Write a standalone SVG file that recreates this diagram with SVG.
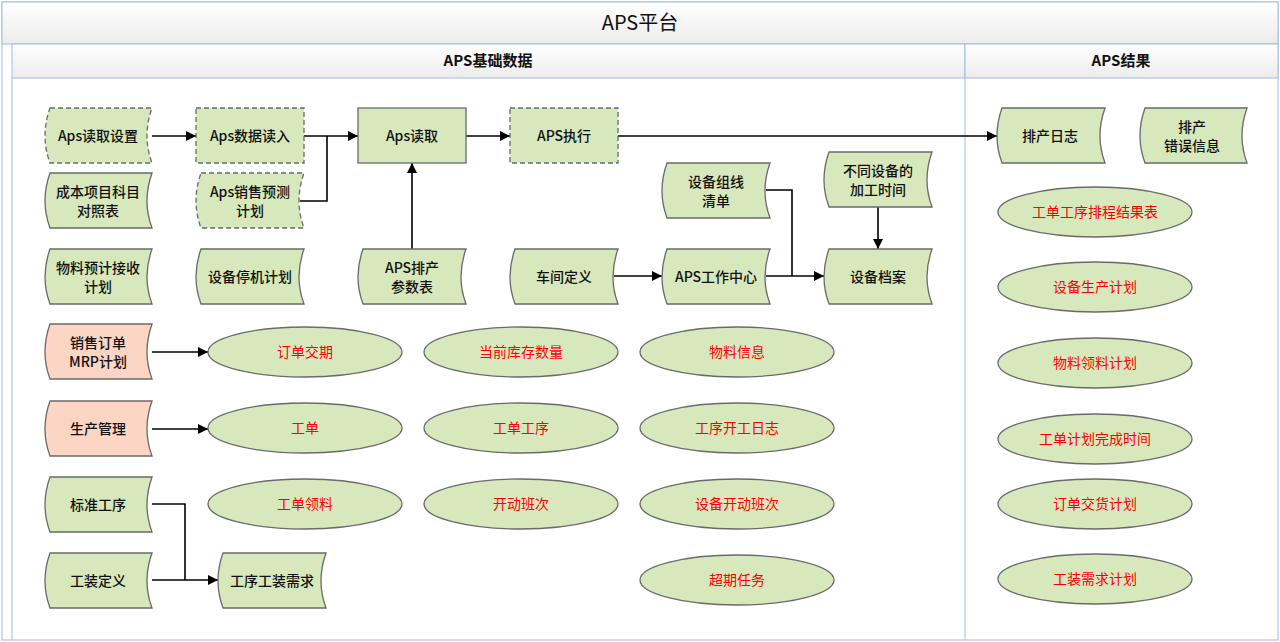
<svg xmlns="http://www.w3.org/2000/svg" width="1280" height="642" viewBox="0 0 1280 642">
<defs>
<linearGradient id="hg" x1="0" y1="0" x2="0" y2="1"><stop offset="0" stop-color="#ffffff"/><stop offset="1" stop-color="#ececec"/></linearGradient>
<marker id="ar" viewBox="0 0 10 10" refX="10" refY="5" markerWidth="10" markerHeight="10" markerUnits="userSpaceOnUse" orient="auto"><path d="M0,0 L10,5 L0,10 Z" fill="#000"/></marker>
</defs>
<style>
.n{fill:#d7e8bc;stroke:#6a6a6a;stroke-width:1.3}
.p{fill:#fcd5c4;stroke:#6a6a6a;stroke-width:1.3}
.d{stroke-dasharray:5,3}
.t{font-family:"Noto Sans CJK SC",sans-serif;font-size:14px;fill:#111;text-anchor:middle;font-weight:500}
.r{font-family:"Noto Sans CJK SC",sans-serif;font-size:14px;fill:#ff0000;text-anchor:middle}
.c{fill:none;stroke:#000;stroke-width:1.6;marker-end:url(#ar)}
.l{fill:none;stroke:#000;stroke-width:1.6}
.h{font-family:"Noto Sans CJK SC",sans-serif;font-weight:bold;font-size:15px;text-anchor:middle;fill:#111}
</style>
<rect x="0" y="0" width="1280" height="642" fill="#fff"/>
<g id="frame">
<rect x="2" y="2" width="1276" height="638" fill="#fff" stroke="#9dbbe0"/>
<rect x="2" y="2" width="1276" height="42" fill="url(#hg)" stroke="#9dbbe0"/>
<text x="640" y="30" font-family="'Noto Sans CJK SC',sans-serif" font-size="20" text-anchor="middle" fill="#111">APS平台</text>
<rect x="12" y="44" width="953" height="34" fill="url(#hg)" stroke="#9dbbe0"/>
<rect x="965" y="44" width="313" height="34" fill="url(#hg)" stroke="#9dbbe0"/>
<line x1="12" y1="78" x2="12" y2="640" stroke="#9dbbe0"/>
<line x1="965" y1="78" x2="965" y2="640" stroke="#9dbbe0"/>
<text x="488" y="66" class="h">APS基础数据</text>
<text x="1121" y="66" class="h">APS结果</text>
</g>
<g id="connectors">
<path class="c" d="M152,136 H196"/>
<path class="c" d="M304,136 H358"/>
<path class="l" d="M300,201 H327 V136"/>
<path class="c" d="M412,249 V163"/>
<path class="c" d="M466,136 H510"/>
<path class="c" d="M618,136 H997"/>
<path class="c" d="M614,276 H662"/>
<path class="c" d="M766,276 H824"/>
<path class="l" d="M766,190 H792 V276"/>
<path class="c" d="M878,207 V249"/>
<path class="c" d="M152,352 H208"/>
<path class="c" d="M152,429 H208"/>
<path class="l" d="M152,504 H185 V580"/>
<path class="c" d="M152,580 H218"/>
</g>
<g id="n1"><path class="n d" d="M50,108 H152 Q142,136 152,163 H50 Q40,136 50,108 Z"/><text class="t" x="98" y="141">Aps读取设置</text></g>
<g id="n2"><rect class="n d" x="196" y="108" width="108" height="55"/><text class="t" x="250" y="141">Aps数据读入</text></g>
<g id="n3"><rect class="n" x="358" y="108" width="108" height="55"/><text class="t" x="412" y="141">Aps读取</text></g>
<g id="n4"><rect class="n d" x="510" y="108" width="108" height="55"/><text class="t" x="564" y="141">APS执行</text></g>
<g id="n5"><path class="n" d="M1002,108 H1105 Q1095,136 1105,163 H1002 Q992,136 1002,108 Z"/><text class="t" x="1050" y="141">排产日志</text></g>
<g id="n6"><path class="n" d="M1145,108 H1247 Q1237,136 1247,163 H1145 Q1135,136 1145,108 Z"/><text class="t" x="1192" y="132">排产</text><text class="t" x="1192" y="151">错误信息</text></g>
<g id="n7"><path class="n" d="M50,173 H152 Q142,201 152,228 H50 Q40,201 50,173 Z"/><text class="t" x="98" y="197">成本项目科目</text><text class="t" x="98" y="216">对照表</text></g>
<g id="n8"><path class="n d" d="M201,173 H304 Q294,201 304,228 H201 Q191,201 201,173 Z"/><text class="t" x="250" y="197">Aps销售预测</text><text class="t" x="250" y="216">计划</text></g>
<g id="n9"><path class="n" d="M50,249 H152 Q142,277 152,304 H50 Q40,277 50,249 Z"/><text class="t" x="98" y="273">物料预计接收</text><text class="t" x="98" y="292">计划</text></g>
<g id="n10"><path class="n" d="M201,249 H304 Q294,277 304,304 H201 Q191,277 201,249 Z"/><text class="t" x="250" y="282">设备停机计划</text></g>
<g id="n11"><path class="n" d="M363,249 H466 Q456,277 466,304 H363 Q353,277 363,249 Z"/><text class="t" x="412" y="273">APS排产</text><text class="t" x="412" y="292">参数表</text></g>
<g id="n12"><path class="n" d="M515,249 H618 Q608,277 618,304 H515 Q505,277 515,249 Z"/><text class="t" x="564" y="282">车间定义</text></g>
<g id="n13"><path class="n" d="M667,249 H770 Q760,277 770,304 H667 Q657,277 667,249 Z"/><text class="t" x="716" y="282">APS工作中心</text></g>
<g id="n14"><path class="n" d="M829,249 H932 Q922,277 932,304 H829 Q819,277 829,249 Z"/><text class="t" x="878" y="282">设备档案</text></g>
<g id="n15"><path class="n" d="M667,163 H770 Q760,191 770,218 H667 Q657,191 667,163 Z"/><text class="t" x="716" y="187">设备组线</text><text class="t" x="716" y="206">清单</text></g>
<g id="n16"><path class="n" d="M829,152 H932 Q922,180 932,207 H829 Q819,180 829,152 Z"/><text class="t" x="878" y="176">不同设备的</text><text class="t" x="878" y="195">加工时间</text></g>
<g id="n17"><path class="p" d="M50,324 H152 Q142,352 152,379 H50 Q40,352 50,324 Z"/><text class="t" x="98" y="348">销售订单</text><text class="t" x="98" y="367">MRP计划</text></g>
<g id="n18"><path class="p" d="M50,401 H152 Q142,429 152,456 H50 Q40,429 50,401 Z"/><text class="t" x="98" y="434">生产管理</text></g>
<g id="n19"><path class="n" d="M50,477 H152 Q142,505 152,532 H50 Q40,505 50,477 Z"/><text class="t" x="98" y="510">标准工序</text></g>
<g id="n20"><path class="n" d="M50,553 H152 Q142,581 152,608 H50 Q40,581 50,553 Z"/><text class="t" x="98" y="586">工装定义</text></g>
<g id="n21"><path class="n" d="M223,553 H326 Q316,581 326,608 H223 Q213,581 223,553 Z"/><text class="t" x="272" y="586">工序工装需求</text></g>
<g id="e1"><ellipse class="n" cx="305" cy="352" rx="97" ry="25"/><text class="r" x="305" y="357">订单交期</text></g>
<g id="e2"><ellipse class="n" cx="521" cy="352" rx="97" ry="25"/><text class="r" x="521" y="357">当前库存数量</text></g>
<g id="e3"><ellipse class="n" cx="737" cy="352" rx="97" ry="25"/><text class="r" x="737" y="357">物料信息</text></g>
<g id="e4"><ellipse class="n" cx="305" cy="428" rx="97" ry="25"/><text class="r" x="305" y="433">工单</text></g>
<g id="e5"><ellipse class="n" cx="521" cy="428" rx="97" ry="25"/><text class="r" x="521" y="433">工单工序</text></g>
<g id="e6"><ellipse class="n" cx="737" cy="428" rx="97" ry="25"/><text class="r" x="737" y="433">工序开工日志</text></g>
<g id="e7"><ellipse class="n" cx="305" cy="504" rx="97" ry="25"/><text class="r" x="305" y="509">工单领料</text></g>
<g id="e8"><ellipse class="n" cx="521" cy="504" rx="97" ry="25"/><text class="r" x="521" y="509">开动班次</text></g>
<g id="e9"><ellipse class="n" cx="737" cy="504" rx="97" ry="25"/><text class="r" x="737" y="509">设备开动班次</text></g>
<g id="e10"><ellipse class="n" cx="737" cy="580" rx="97" ry="25"/><text class="r" x="737" y="585">超期任务</text></g>
<g id="e11"><ellipse class="n" cx="1095" cy="212" rx="97" ry="25"/><text class="r" x="1095" y="217">工单工序排程结果表</text></g>
<g id="e12"><ellipse class="n" cx="1095" cy="287" rx="97" ry="25"/><text class="r" x="1095" y="292">设备生产计划</text></g>
<g id="e13"><ellipse class="n" cx="1095" cy="363" rx="97" ry="25"/><text class="r" x="1095" y="368">物料领料计划</text></g>
<g id="e14"><ellipse class="n" cx="1095" cy="439" rx="97" ry="25"/><text class="r" x="1095" y="444">工单计划完成时间</text></g>
<g id="e15"><ellipse class="n" cx="1095" cy="504" rx="97" ry="25"/><text class="r" x="1095" y="509">订单交货计划</text></g>
<g id="e16"><ellipse class="n" cx="1095" cy="579" rx="97" ry="25"/><text class="r" x="1095" y="584">工装需求计划</text></g>
</svg>
